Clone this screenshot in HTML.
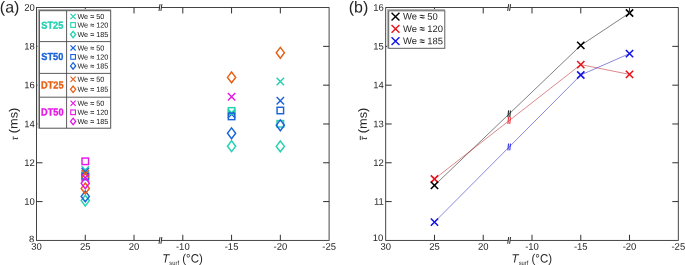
<!DOCTYPE html>
<html lang="en"><head><meta charset="utf-8"><title>Figure</title>
<style>
html,body{margin:0;padding:0;background:#fff;}
body{width:685px;height:265px;overflow:hidden;}
svg{display:block;font-family:"Liberation Sans", Arial, sans-serif;text-rendering:geometricPrecision;}
.t{font-size:9.5px;fill:#262626;}
.l{font-size:12.2px;fill:#262626;}
.xl{font-size:11.5px;fill:#262626;}
.p{font-size:16px;fill:#262626;}
.g{font-size:7.25px;fill:#161616;}
.h{font-size:9.45px;fill:#262626;}
.b{font-size:9.2px;font-weight:bold;}
</style></head><body>
<svg width="685" height="265" viewBox="0 0 685 265">
<rect width="685" height="265" fill="#fff"/>
<g>
<path d="M81.57 166.3L88.97 173.7M81.57 173.7L88.97 166.3" stroke="#25d0b0" stroke-width="1.45" fill="none"/>
<rect x="82.02" y="171.75" width="6.5" height="6.5" stroke="#25d0b0" stroke-width="1.45" fill="none"/>
<path d="M85.27 195.2L89.37 200.6L85.27 206L81.17 200.6Z" stroke="#25d0b0" stroke-width="1.45" fill="none" stroke-linejoin="miter"/>
<path d="M227.87 110.5L235.27 117.9M227.87 117.9L235.27 110.5" stroke="#1a64d8" stroke-width="1.45" fill="none"/>
<path d="M227.87 109.1L235.27 116.5M227.87 116.5L235.27 109.1" stroke="#25d0b0" stroke-width="1.45" fill="none"/>
<rect x="228.32" y="107.65" width="6.5" height="6.5" stroke="#25d0b0" stroke-width="1.45" fill="none"/>
<path d="M231.57 140.8L235.67 146.2L231.57 151.6L227.47 146.2Z" stroke="#25d0b0" stroke-width="1.45" fill="none" stroke-linejoin="miter"/>
<path d="M276.63 77.8L284.03 85.2M276.63 85.2L284.03 77.8" stroke="#25d0b0" stroke-width="1.45" fill="none"/>
<rect x="277.08" y="120.55" width="6.5" height="6.5" stroke="#25d0b0" stroke-width="1.45" fill="none"/>
<path d="M280.33 141L284.43 146.4L280.33 151.8L276.23 146.4Z" stroke="#25d0b0" stroke-width="1.45" fill="none" stroke-linejoin="miter"/>
<path d="M81.57 168.1L88.97 175.5M81.57 175.5L88.97 168.1" stroke="#1a64d8" stroke-width="1.45" fill="none"/>
<rect x="82.02" y="173.25" width="6.5" height="6.5" stroke="#1a64d8" stroke-width="1.45" fill="none"/>
<path d="M85.27 191L89.37 196.4L85.27 201.8L81.17 196.4Z" stroke="#1a64d8" stroke-width="1.45" fill="none" stroke-linejoin="miter"/>
<rect x="228.32" y="113.15" width="6.5" height="6.5" stroke="#1a64d8" stroke-width="1.45" fill="none"/>
<path d="M231.57 127.9L235.67 133.3L231.57 138.7L227.47 133.3Z" stroke="#1a64d8" stroke-width="1.45" fill="none" stroke-linejoin="miter"/>
<path d="M276.63 97.1L284.03 104.5M276.63 104.5L284.03 97.1" stroke="#1a64d8" stroke-width="1.45" fill="none"/>
<rect x="277.08" y="107.25" width="6.5" height="6.5" stroke="#1a64d8" stroke-width="1.45" fill="none"/>
<path d="M280.33 119.9L284.43 125.3L280.33 130.7L276.23 125.3Z" stroke="#1a64d8" stroke-width="1.45" fill="none" stroke-linejoin="miter"/>
<path d="M81.57 170.1L88.97 177.5M81.57 177.5L88.97 170.1" stroke="#e85f14" stroke-width="1.45" fill="none"/>
<path d="M85.27 183L89.37 188.4L85.27 193.8L81.17 188.4Z" stroke="#e85f14" stroke-width="1.45" fill="none" stroke-linejoin="miter"/>
<path d="M231.57 72L235.67 77.4L231.57 82.8L227.47 77.4Z" stroke="#e85f14" stroke-width="1.45" fill="none" stroke-linejoin="miter"/>
<path d="M280.33 47.4L284.43 52.8L280.33 58.2L276.23 52.8Z" stroke="#e85f14" stroke-width="1.45" fill="none" stroke-linejoin="miter"/>
<rect x="82.02" y="158.05" width="6.5" height="6.5" stroke="#e418e4" stroke-width="1.45" fill="none"/>
<path d="M81.57 174L88.97 181.4M81.57 181.4L88.97 174" stroke="#e418e4" stroke-width="1.45" fill="none"/>
<path d="M85.27 177.9L89.37 183.3L85.27 188.7L81.17 183.3Z" stroke="#e418e4" stroke-width="1.45" fill="none" stroke-linejoin="miter"/>
<path d="M227.87 93.1L235.27 100.5M227.87 100.5L235.27 93.1" stroke="#e418e4" stroke-width="1.45" fill="none"/>
</g>
<rect x="36.5" y="7.55" width="292.6" height="232.85" fill="none" stroke="#303030" stroke-width="0.9"/>
<path d="M85.27 240.4v-5.6M85.27 7.55v5.9M134.03 240.4v-5.6M134.03 7.55v5.9M182.8 240.4v-5.6M182.8 7.55v5.9M231.57 240.4v-5.6M231.57 7.55v5.9M280.33 240.4v-5.6M280.33 7.55v5.9M36.5 201.59h6M329.1 201.59h-6M36.5 162.78h6M329.1 162.78h-6M36.5 123.98h6M329.1 123.98h-6M36.5 85.17h6M329.1 85.17h-6M36.5 46.36h6M329.1 46.36h-6" stroke="#303030" stroke-width="1" fill="none"/>
<rect x="159.5" y="6.55" width="1.9" height="2" fill="#fff"/>
<path d="M159 10.95L160 4.15M160.9 10.95L161.9 4.15" stroke="#222" stroke-width="0.95" fill="none"/>
<rect x="159.5" y="239.4" width="1.9" height="2" fill="#fff"/>
<path d="M159 243.8L160 237M160.9 243.8L161.9 237" stroke="#222" stroke-width="0.95" fill="none"/>
<text transform="matrix(1 0.002 0 1 36.5 249.8)" text-anchor="middle" class="t">30</text>
<text transform="matrix(1 0.002 0 1 85.27 249.8)" text-anchor="middle" class="t">25</text>
<text transform="matrix(1 0.002 0 1 134.03 249.8)" text-anchor="middle" class="t">20</text>
<text transform="matrix(1 0.002 0 1 182.8 249.8)" text-anchor="middle" class="t">-10</text>
<text transform="matrix(1 0.002 0 1 231.57 249.8)" text-anchor="middle" class="t">-15</text>
<text transform="matrix(1 0.002 0 1 280.33 249.8)" text-anchor="middle" class="t">-20</text>
<text transform="matrix(1 0.002 0 1 329.1 249.8)" text-anchor="middle" class="t">-25</text>
<text transform="matrix(1 0.002 0 1 34.3 242.2)" text-anchor="end" class="t">8</text>
<text transform="matrix(1 0.002 0 1 34.9 204.79)" text-anchor="end" class="t">10</text>
<text transform="matrix(1 0.002 0 1 34.9 165.98)" text-anchor="end" class="t">12</text>
<text transform="matrix(1 0.002 0 1 34.9 127.18)" text-anchor="end" class="t">14</text>
<text transform="matrix(1 0.002 0 1 34.9 88.37)" text-anchor="end" class="t">16</text>
<text transform="matrix(1 0.002 0 1 34.9 49.56)" text-anchor="end" class="t">18</text>
<text transform="matrix(1 0.002 0 1 34.9 10.75)" text-anchor="end" class="t">20</text>
<rect x="37.6" y="9" width="73.1" height="119.2" fill="#fff"/>
<path d="M38.3 128.6V9.65H111.10000000000001" stroke="#b4b4b4" stroke-width="1.3" fill="none"/>
<rect x="39.4" y="10.7" width="71.3" height="117.5" fill="#fff" stroke="#4a4a4a" stroke-width="0.95"/>
<path d="M66.6 10.7V128.2M39.4 41.6H110.7M39.4 73.4H110.7M39.4 97.2H110.7" stroke="#4a4a4a" stroke-width="0.9" fill="none"/>
<text transform="matrix(1 0.002 0 1.11 52.3 28.8)" text-anchor="middle" class="b" fill="#25d0b0" stroke="#25d0b0" stroke-width="0.3">ST25</text>
<path d="M70.5 13.9L75.7 19.1M70.5 19.1L75.7 13.9" stroke="#25d0b0" stroke-width="1.2" fill="none"/>
<text transform="matrix(1 0.002 0 1 77.4 19)" class="g">We <tspan font-weight="bold">≈</tspan> 50</text>
<rect x="70.75" y="22.65" width="4.7" height="4.7" stroke="#25d0b0" stroke-width="1.1" fill="none"/>
<text transform="matrix(1 0.002 0 1 77.4 27.5)" class="g">We <tspan font-weight="bold">≈</tspan> 120</text>
<path d="M73.1 31.3L75.7 34.5L73.1 37.7L70.5 34.5Z" stroke="#25d0b0" stroke-width="1.3" fill="none" stroke-linejoin="miter"/>
<text transform="matrix(1 0.002 0 1 77.4 37)" class="g">We <tspan font-weight="bold">≈</tspan> 185</text>
<text transform="matrix(1 0.002 0 1.11 52.3 59.9)" text-anchor="middle" class="b" fill="#1a64d8" stroke="#1a64d8" stroke-width="0.3">ST50</text>
<path d="M70.5 45.3L75.7 50.5M70.5 50.5L75.7 45.3" stroke="#1a64d8" stroke-width="1.2" fill="none"/>
<text transform="matrix(1 0.002 0 1 77.4 50.4)" class="g">We <tspan font-weight="bold">≈</tspan> 50</text>
<rect x="70.75" y="54.55" width="4.7" height="4.7" stroke="#1a64d8" stroke-width="1.1" fill="none"/>
<text transform="matrix(1 0.002 0 1 77.4 59.4)" class="g">We <tspan font-weight="bold">≈</tspan> 120</text>
<path d="M73.1 62.7L75.7 65.9L73.1 69.1L70.5 65.9Z" stroke="#1a64d8" stroke-width="1.3" fill="none" stroke-linejoin="miter"/>
<text transform="matrix(1 0.002 0 1 77.4 68.4)" class="g">We <tspan font-weight="bold">≈</tspan> 185</text>
<text transform="matrix(1 0.002 0 1.11 52.3 88.4)" text-anchor="middle" class="b" fill="#e85f14" stroke="#e85f14" stroke-width="0.3">DT25</text>
<path d="M70.5 76.7L75.7 81.9M70.5 81.9L75.7 76.7" stroke="#e85f14" stroke-width="1.2" fill="none"/>
<text transform="matrix(1 0.002 0 1 77.4 81.8)" class="g">We <tspan font-weight="bold">≈</tspan> 50</text>
<path d="M73.1 86.1L75.7 89.3L73.1 92.5L70.5 89.3Z" stroke="#e85f14" stroke-width="1.3" fill="none" stroke-linejoin="miter"/>
<text transform="matrix(1 0.002 0 1 77.4 91.8)" class="g">We <tspan font-weight="bold">≈</tspan> 185</text>
<text transform="matrix(1 0.002 0 1.11 52.3 115.6)" text-anchor="middle" class="b" fill="#e418e4" stroke="#e418e4" stroke-width="0.3">DT50</text>
<path d="M70.5 100.6L75.7 105.8M70.5 105.8L75.7 100.6" stroke="#e418e4" stroke-width="1.2" fill="none"/>
<text transform="matrix(1 0.002 0 1 77.4 105.7)" class="g">We <tspan font-weight="bold">≈</tspan> 50</text>
<rect x="70.75" y="109.95" width="4.7" height="4.7" stroke="#e418e4" stroke-width="1.1" fill="none"/>
<text transform="matrix(1 0.002 0 1 77.4 114.8)" class="g">We <tspan font-weight="bold">≈</tspan> 120</text>
<path d="M73.1 118.2L75.7 121.4L73.1 124.6L70.5 121.4Z" stroke="#e418e4" stroke-width="1.3" fill="none" stroke-linejoin="miter"/>
<text transform="matrix(1 0.002 0 1 77.4 123.9)" class="g">We <tspan font-weight="bold">≈</tspan> 185</text>
<text transform="matrix(1 0.002 0 1 -0.2 12.5)" class="p">(a)</text>
<text transform="translate(17.5 133.2) rotate(-89.9) scale(1.07 1)" class="l" style="font-size:11.9px">(ms)</text>
<text transform="translate(17.9 140.3) rotate(-89.9)" class="l" style="font-size:9.8px;font-style:italic">τ</text>
<text transform="matrix(1 0.002 0 1.05 162.3 262.5)" class="xl"><tspan font-style="italic">T</tspan><tspan font-size="5.8px" dy="2.3">surf</tspan><tspan dy="-2.3"> (°C)</tspan></text>
<path d="M434.47 185.4L580.77 45.4L629.53 13" stroke="#000" stroke-width="0.5" fill="none"/>
<path d="M507.9 117.28L508.5 110.48M509.8 117.28L510.4 110.48" stroke="#000000" stroke-width="0.95" fill="none"/>
<path d="M434.47 179L580.77 64.6L629.53 74.4" stroke="#b8121a" stroke-width="0.5" fill="none"/>
<path d="M507.9 123.96L508.5 117.16M509.8 123.96L510.4 117.16" stroke="#e8141c" stroke-width="0.95" fill="none"/>
<path d="M434.47 222.1L580.77 75L629.53 53.6" stroke="#1212b4" stroke-width="0.5" fill="none"/>
<path d="M507.9 150.36L508.5 143.56M509.8 150.36L510.4 143.56" stroke="#1414e6" stroke-width="0.95" fill="none"/>
<path d="M430.82 218.45L438.12 225.75M430.82 225.75L438.12 218.45" stroke="#1414e6" stroke-width="1.6" fill="none"/>
<path d="M577.12 71.35L584.42 78.65M577.12 78.65L584.42 71.35" stroke="#1414e6" stroke-width="1.6" fill="none"/>
<path d="M625.88 49.95L633.18 57.25M625.88 57.25L633.18 49.95" stroke="#1414e6" stroke-width="1.6" fill="none"/>
<path d="M430.82 175.35L438.12 182.65M430.82 182.65L438.12 175.35" stroke="#e8141c" stroke-width="1.6" fill="none"/>
<path d="M577.12 60.95L584.42 68.25M577.12 68.25L584.42 60.95" stroke="#e8141c" stroke-width="1.6" fill="none"/>
<path d="M625.88 70.75L633.18 78.05M625.88 78.05L633.18 70.75" stroke="#e8141c" stroke-width="1.6" fill="none"/>
<path d="M430.82 181.75L438.12 189.05M430.82 189.05L438.12 181.75" stroke="#000000" stroke-width="1.6" fill="none"/>
<path d="M577.12 41.75L584.42 49.05M577.12 49.05L584.42 41.75" stroke="#000000" stroke-width="1.6" fill="none"/>
<path d="M625.88 9.35L633.18 16.65M625.88 16.65L633.18 9.35" stroke="#000000" stroke-width="1.6" fill="none"/>
<rect x="385.7" y="7.55" width="292.6" height="232.85" fill="none" stroke="#303030" stroke-width="0.9"/>
<path d="M434.47 240.4v-5.6M434.47 7.55v5.9M483.23 240.4v-5.6M483.23 7.55v5.9M532 240.4v-5.6M532 7.55v5.9M580.77 240.4v-5.6M580.77 7.55v5.9M629.53 240.4v-5.6M629.53 7.55v5.9M385.7 201.59h6M678.3 201.59h-6M385.7 162.78h6M678.3 162.78h-6M385.7 123.98h6M678.3 123.98h-6M385.7 85.17h6M678.3 85.17h-6M385.7 46.36h6M678.3 46.36h-6" stroke="#303030" stroke-width="1" fill="none"/>
<rect x="508.2" y="6.55" width="1.9" height="2" fill="#fff"/>
<path d="M507.7 10.95L508.7 4.15M509.6 10.95L510.6 4.15" stroke="#222" stroke-width="0.95" fill="none"/>
<rect x="508.2" y="239.4" width="1.9" height="2" fill="#fff"/>
<path d="M507.7 243.8L508.7 237M509.6 243.8L510.6 237" stroke="#222" stroke-width="0.95" fill="none"/>
<text transform="matrix(1 0.002 0 1 385.7 249.8)" text-anchor="middle" class="t">30</text>
<text transform="matrix(1 0.002 0 1 434.47 249.8)" text-anchor="middle" class="t">25</text>
<text transform="matrix(1 0.002 0 1 483.23 249.8)" text-anchor="middle" class="t">20</text>
<text transform="matrix(1 0.002 0 1 532 249.8)" text-anchor="middle" class="t">-10</text>
<text transform="matrix(1 0.002 0 1 580.77 249.8)" text-anchor="middle" class="t">-15</text>
<text transform="matrix(1 0.002 0 1 629.53 249.8)" text-anchor="middle" class="t">-20</text>
<text transform="matrix(1 0.002 0 1 678.3 249.8)" text-anchor="middle" class="t">-25</text>
<text transform="matrix(1 0.002 0 1 383.3 240.9)" text-anchor="end" class="t">10</text>
<text transform="matrix(1 0.002 0 1 383.9 204.79)" text-anchor="end" class="t">11</text>
<text transform="matrix(1 0.002 0 1 383.9 165.98)" text-anchor="end" class="t">12</text>
<text transform="matrix(1 0.002 0 1 383.9 127.18)" text-anchor="end" class="t">13</text>
<text transform="matrix(1 0.002 0 1 383.9 88.37)" text-anchor="end" class="t">14</text>
<text transform="matrix(1 0.002 0 1 383.9 49.56)" text-anchor="end" class="t">15</text>
<text transform="matrix(1 0.002 0 1 383.9 10.75)" text-anchor="end" class="t">16</text>
<rect x="387" y="9" width="57.6" height="39.2" fill="#fff"/>
<path d="M387.65 48.6V9.65H445" stroke="#b4b4b4" stroke-width="1.3" fill="none"/>
<rect x="388.7" y="10.8" width="56.1" height="37.5" fill="#fff" stroke="#555" stroke-width="0.95"/>
<path d="M391.55 12.65L399.45 20.55M391.55 20.55L399.45 12.65" stroke="#000000" stroke-width="1.4" fill="none"/>
<text transform="matrix(1 0.002 0 1 402.9 19.6)" class="h">We <tspan font-weight="bold">≈</tspan> 50</text>
<path d="M391.55 24.95L399.45 32.85M391.55 32.85L399.45 24.95" stroke="#e8141c" stroke-width="1.4" fill="none"/>
<text transform="matrix(1 0.002 0 1 402.9 31.9)" class="h">We <tspan font-weight="bold">≈</tspan> 120</text>
<path d="M391.55 37.15L399.45 45.05M391.55 45.05L399.45 37.15" stroke="#1414e6" stroke-width="1.4" fill="none"/>
<text transform="matrix(1 0.002 0 1 402.9 44.1)" class="h">We <tspan font-weight="bold">≈</tspan> 185</text>
<text transform="matrix(1 0.002 0 1 348.7 12.5)" class="p">(b)</text>
<text transform="translate(366.7 133.2) rotate(-89.9) scale(1.07 1)" class="l" style="font-size:11.9px">(ms)</text>
<text transform="translate(367.1 140.3) rotate(-89.9)" class="l" style="font-size:9.8px;font-style:italic">τ</text>
<path d="M360.3 135.8V140.1" stroke="#262626" stroke-width="0.9" fill="none"/>
<text transform="matrix(1 0.002 0 1.05 511.6 262.5)" class="xl"><tspan font-style="italic">T</tspan><tspan font-size="5.8px" dy="2.3">surf</tspan><tspan dy="-2.3"> (°C)</tspan></text>
</svg></body></html>
